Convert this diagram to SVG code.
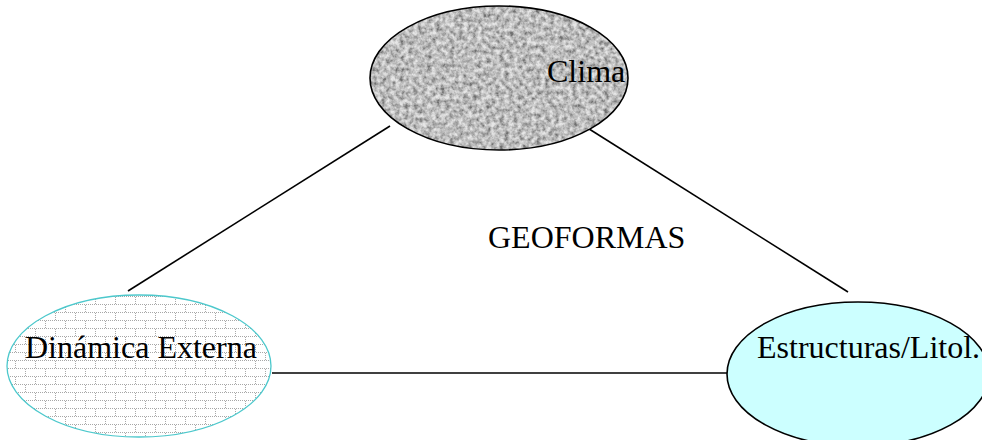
<svg xmlns="http://www.w3.org/2000/svg" width="982" height="440" viewBox="0 0 982 440">
<style>
.lbl{font-family:"Liberation Serif","Times New Roman",serif;font-size:32px;fill:#000}
.conn{stroke:#000;stroke-width:1.6;fill:none}
</style>
<defs>
<filter id="noise" x="0" y="0" width="100%" height="100%">
<feTurbulence type="fractalNoise" baseFrequency="0.22" numOctaves="3" seed="3" result="t"/>
<feColorMatrix in="t" type="matrix" values="0 0 0 0 0  0 0 0 0 0  0 0 0 0 0  0 0 0 -1.7 1.3" result="m"/>
<feFlood flood-color="#707070" result="f"/>
<feComposite in="f" in2="m" operator="in" result="d"/>
<feFlood flood-color="#e6e6e6" result="bg"/>
<feMerge result="all"><feMergeNode in="bg"/><feMergeNode in="d"/></feMerge>
<feComposite in="all" in2="SourceGraphic" operator="in"/>
</filter>
<pattern id="brick" width="20" height="16" patternUnits="userSpaceOnUse">
<rect width="20" height="16" fill="#ffffff"/>
<path d="M0 0.5H20M0 8.5H20M5.5 1V8M15.5 9V16" stroke="#a8a8a8" stroke-width="1" stroke-dasharray="1 1"/>
</pattern>
</defs>
<g id="connectors">
<line class="conn" x1="390" y1="126" x2="128" y2="291"/>
<line class="conn" x1="586" y1="127" x2="848" y2="292"/>
<line class="conn" x1="272" y1="373" x2="727" y2="373"/>
</g>
<g id="clima">
<ellipse cx="499" cy="78" rx="129" ry="72" fill="#aaa" filter="url(#noise)"/>
<ellipse cx="499" cy="78" rx="129" ry="72" fill="none" stroke="#000" stroke-width="1.6"/>
<text class="lbl" x="547" y="82">Clima</text>
</g>
<g id="dinamica">
<ellipse cx="139" cy="366" rx="132" ry="71" fill="url(#brick)" stroke="#4cc8cc" stroke-width="1.3"/>
<text class="lbl" x="25" y="358">Dinámica Externa</text>
</g>
<g id="estructuras">
<ellipse cx="858" cy="374" rx="131" ry="72" fill="#ccffff" stroke="#000" stroke-width="1.6"/>
<text class="lbl" x="757" y="358">Estructuras/Litol.</text>
</g>
<g id="geoformas">
<text class="lbl" x="488" y="248">GEOFORMAS</text>
</g>
</svg>
